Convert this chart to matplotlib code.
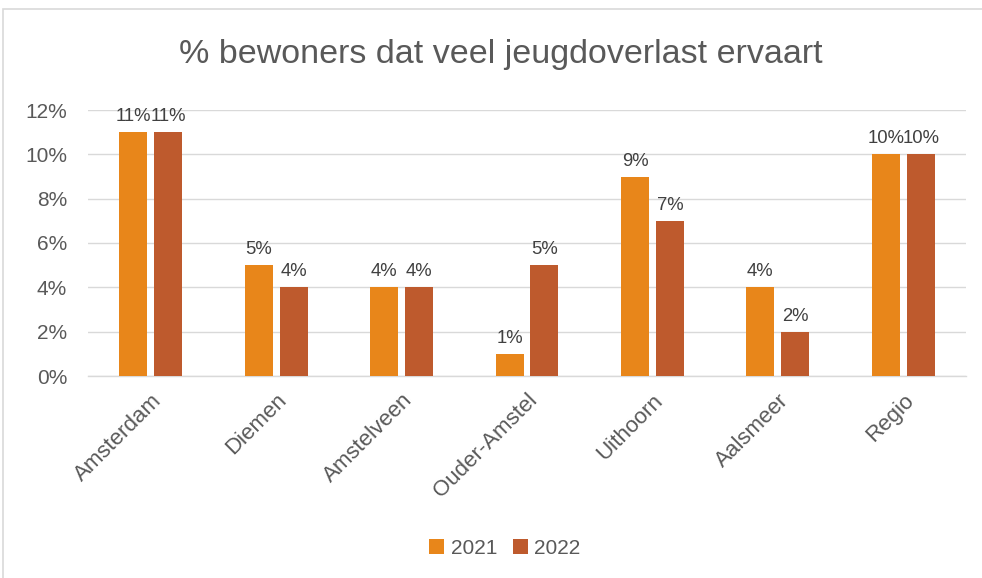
import matplotlib
matplotlib.use("Agg")
import matplotlib.pyplot as plt
import matplotlib.ticker as tick
import numpy as np
from matplotlib.patches import Rectangle

# ---- data ----
categories = ["Amsterdam", "Diemen", "Amstelveen", "Ouder-Amstel", "Uithoorn", "Aalsmeer", "Regio"]
years = ["2021", "2022"]
values_2021 = [11, 5, 4, 1, 9, 4, 10]
values_2022 = [11, 4, 4, 5, 7, 2, 10]
yticks = [0, 2, 4, 6, 8, 10, 12]

COLORS = ["#E8861A", "#BE5A2D"]
TEXT = "#595959"
LABEL = "#404040"

plt.rcParams["font.family"] = ["Liberation Sans", "DejaVu Sans"]

W, H = 982, 578
fig = plt.figure(figsize=(W / 100, H / 100), dpi=100)

# chart border (right and bottom run off the picture)
fig.patches.append(Rectangle((3 / W, -0.1), 1, 1.1 - 9 / H, transform=fig.transFigure,
                             fill=False, edgecolor="#D9D9D9", linewidth=1.2))

ax = fig.add_axes([88 / W, 1 - 376 / H, (966 - 88) / W, (376 - 110) / H])
x = np.arange(len(categories))
bw = 0.223
off = 0.139
for i, (vals, col, lab) in enumerate(zip([values_2021, values_2022], COLORS, years)):
    bars = ax.bar(x + (off if i else -off), vals, width=bw, color=col, label=lab, zorder=3)
    ax.bar_label(bars, labels=[f"{v}%" for v in vals], padding=5, fontsize=13.3, color=LABEL)

ax.set_xlim(-0.5, len(categories) - 0.5)
ax.set_ylim(0, 12)
ax.set_yticks(yticks)
ax.yaxis.set_major_formatter(tick.FuncFormatter(lambda v, p: f"{v:.0f}%"))
ax.grid(axis="y", color="#D9D9D9", linewidth=1, zorder=0)
for s in ["top", "right", "left"]:
    ax.spines[s].set_visible(False)
ax.spines["bottom"].set_color("#D9D9D9")
ax.spines["bottom"].set_linewidth(1)
ax.set_xticks(x)
ax.set_xticklabels(categories, rotation=45, ha="right", rotation_mode="anchor")
ax.tick_params(axis="y", length=0, labelsize=15, labelcolor=TEXT, pad=15)
ax.tick_params(axis="x", length=0, labelsize=16, labelcolor=TEXT, pad=10)

fig.text(0.51, 1 - 55 / H, "% bewoners dat veel jeugdoverlast ervaart", ha="center", va="center",
         fontsize=24.5, color=TEXT)

ax.legend(loc="center", bbox_to_anchor=(0.514, 1 - 548 / H), bbox_transform=fig.transFigure,
          ncol=2, frameon=False, fontsize=15, labelcolor=TEXT, handlelength=0.75, handleheight=0.75,
          handletextpad=0.3, columnspacing=0.75)

fig.savefig("out.png", dpi=100)
